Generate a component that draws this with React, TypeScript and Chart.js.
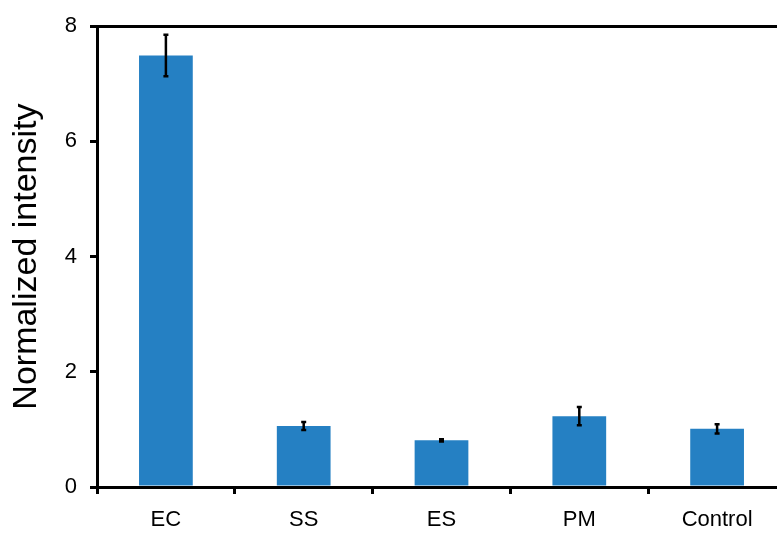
import React, { useEffect, useRef } from "react";
import { Chart, registerables } from "chart.js";

Chart.register(...registerables);

const categories = ["EC", "SS", "ES", "PM", "Control"];
const values = [7.49, 1.06, 0.81, 1.23, 1.01];
const errors = [0.36, 0.07, 0.02, 0.16, 0.08];
const yTicks = [0, 2, 4, 6, 8];
const yTitle = "Normalized intensity";

const FONT = "'Liberation Sans', Arial, Helvetica, sans-serif";

const errorBarPlugin = {
  id: "errorBars",
  afterDatasetsDraw(chart: any) {
    const meta = chart.getDatasetMeta(0);
    const yScale = chart.scales.y;
    const ctx = chart.ctx;
    ctx.save();
    ctx.strokeStyle = "#000";
    ctx.lineWidth = 2.5;
    meta.data.forEach((bar: any, i: number) => {
      const v = values[i];
      const e = errors[i];
      const yt = yScale.getPixelForValue(v + e);
      const yb = yScale.getPixelForValue(v - e);
      const x = bar.x;
      ctx.beginPath();
      ctx.moveTo(x, yt);
      ctx.lineTo(x, yb);
      ctx.moveTo(x - 2.5, yt);
      ctx.lineTo(x + 2.5, yt);
      ctx.moveTo(x - 2.5, yb);
      ctx.lineTo(x + 2.5, yb);
      ctx.stroke();
    });
    ctx.restore();
  },
};

export default function App() {
  const ref = useRef<HTMLCanvasElement | null>(null);
  useEffect(() => {
    if (!ref.current) return;
    const chart = new Chart(ref.current, {
      type: "bar",
      data: {
        labels: categories,
        datasets: [
          {
            data: values,
            backgroundColor: "#2580C3",
            borderWidth: 0,
            categoryPercentage: 1,
            barPercentage: 0.39,
          },
        ],
      },
      options: {
        responsive: false,
        animation: false,
        devicePixelRatio: 1,
        layout: { padding: { top: 23, right: 14, left: 0, bottom: 0 } },
        plugins: { legend: { display: false }, tooltip: { enabled: false } },
        scales: {
          x: {
            afterFit: (s: any) => {
              s.height = 46;
            },
            grid: {
              offset: true,
              drawOnChartArea: false,
              tickColor: "#000",
              tickLength: 7,
              tickWidth: 3,
              lineWidth: 3,
            },
            border: { display: true, color: "#000", width: 3 },
            ticks: {
              color: "#000",
              padding: 13,
              font: { family: FONT, size: 22 },
              maxRotation: 0,
            },
          },
          y: {
            min: 0,
            max: 8,
            afterFit: (s: any) => {
              s.width = 97;
            },
            afterBuildTicks: (s: any) => {
              s.ticks = yTicks.map((v) => ({ value: v }));
            },
            grid: {
              color: (c: any) => (c.tick && c.tick.value === 8 ? "#000" : "rgba(0,0,0,0)"),
              tickColor: "#000",
              tickLength: 7,
              tickWidth: 3,
              lineWidth: 3,
            },
            border: { display: true, color: "#000", width: 3 },
            ticks: {
              color: "#000",
              padding: 13,
              font: { family: FONT, size: 22 },
            },
            title: {
              display: true,
              text: yTitle,
              color: "#000",
              font: { family: FONT, size: 34 },
              padding: { top: 6, bottom: 8 },
            },
          },
        },
      },
      plugins: [errorBarPlugin],
    });
    return () => chart.destroy();
  }, []);
  return (
    <div
      style={{
        position: "fixed",
        left: 0,
        top: 0,
        width: 777,
        height: 533,
        overflow: "hidden",
        background: "#fff",
      }}
    >
      <canvas ref={ref} width={800} height={533} style={{ width: 800, height: 533, display: "block" }} />
    </div>
  );
}
